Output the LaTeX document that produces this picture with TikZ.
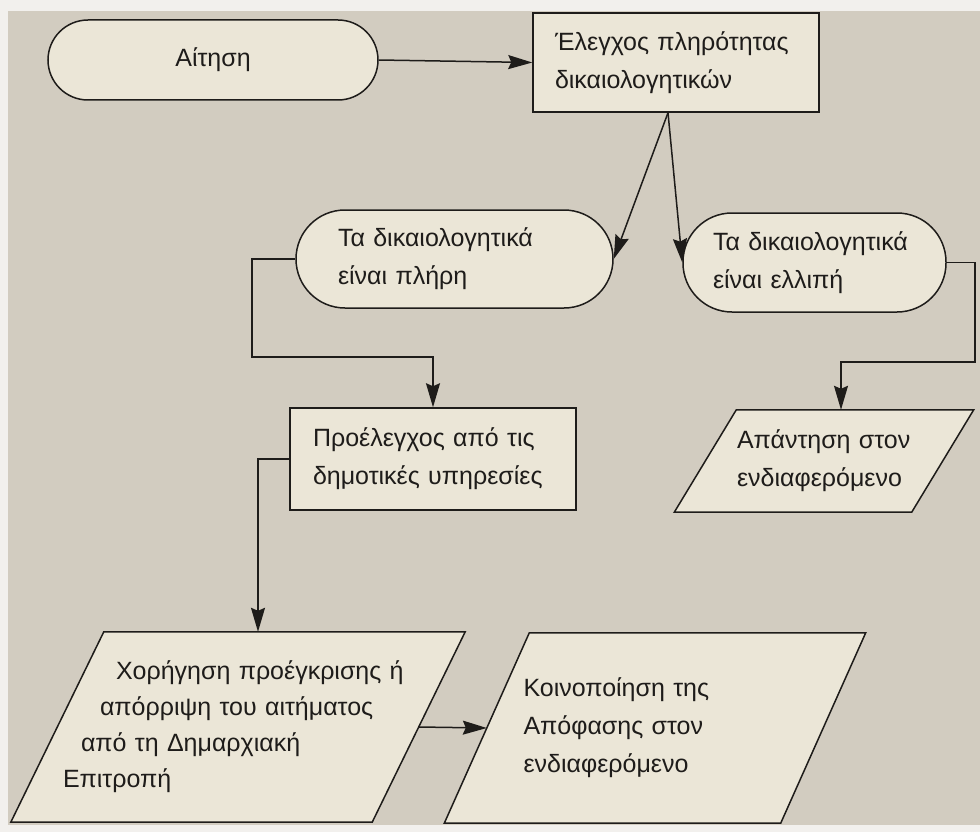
\documentclass[tikz,border=0pt]{standalone}
\usepackage{fontspec}
\setmainfont{Liberation Sans}
\usetikzlibrary{arrows.meta}
\pgfdeclarelayer{back}
\pgfdeclarelayer{shapes}
\pgfsetlayers{back,shapes,main}
\definecolor{paper}{RGB}{210,204,192}
\definecolor{margin}{RGB}{242,240,237}
\definecolor{boxfill}{RGB}{235,230,215}
\definecolor{ink}{RGB}{30,28,26}
\begin{document}
\begin{tikzpicture}[x=1pt,y=-1pt,
  every node/.style={font=\fontsize{25}{38}\selectfont, text=ink},
  line/.style={draw=ink, line width=1.5pt},
  arrow/.style={line, -{Stealth[length=24pt,width=14pt,inset=3pt]}},
  box/.style={line, fill=boxfill, align=left, inner ysep=0pt},
  pgram/.style={align=left, inner ysep=0pt},
  shapeline/.style={line, fill=boxfill, line join=miter}]
\begin{pgfonlayer}{back}
  \fill[margin] (0,0) rectangle (980,832);
  \fill[paper] (8,11) rectangle (980,825);
\end{pgfonlayer}
\useasboundingbox (0,0) rectangle (980,832);

% terminals and process boxes
\node[box, rounded corners=40pt, minimum width=330pt, minimum height=80pt, align=center] (aitisi) at (213,60) {Αίτηση};
\node[box, minimum width=286pt, minimum height=99pt, text width=242pt, inner xsep=22pt] (elegxos) at (676,62.5)
  {\mbox{Έλεγχος πληρότητας}\\\mbox{δικαιολογητικών}};
\node[box, rounded corners=49pt, minimum width=317pt, minimum height=98pt, text width=233pt, inner xsep=42pt] (pliri) at (454.5,259)
  {\mbox{Τα δικαιολογητικά}\\\mbox{είναι πλήρη}};
\node[box, rounded corners=49pt, minimum width=263pt, minimum height=99pt, text width=203pt, inner xsep=30pt] (ellipi) at (814.5,262.5)
  {\mbox{Τα δικαιολογητικά}\\\mbox{είναι ελλιπή}};
\node[box, minimum width=286pt, minimum height=102pt, text width=240pt, inner xsep=23pt] (proel) at (433,459)
  {\mbox{Προέλεγχος από τις}\\\mbox{δημοτικές υπηρεσίες}};

% parallelograms (data)
\node[pgram, minimum width=237pt, minimum height=102pt, text width=174pt, inner xsep=31.5pt] (apan) at (824,461)
  {\mbox{Απάντηση στον}\\\mbox{ενδιαφερόμενο}};
\node[pgram, minimum width=361pt, minimum height=190pt, text width=350pt, inner xsep=5.5pt, font=\fontsize{25}{36}\selectfont] (p1) at (238,727)
  {\mbox{\hspace*{53pt}Χορήγηση προέγκρισης ή}\\\mbox{\hspace*{37pt}απόρριψη του αιτήματος}\\\mbox{\hspace*{18pt}από τη Δημαρχιακή}\\\mbox{Επιτροπή}};
\node[pgram, minimum width=336pt, minimum height=190pt, text width=263pt, inner xsep=36.5pt] (p2) at (655,728)
  {\mbox{Κοινοποίηση της}\\\mbox{Απόφασης στον}\\\mbox{ενδιαφερόμενο}};

\begin{pgfonlayer}{shapes}
  \draw[shapeline] ([xshift=31pt]apan.north west) -- ([xshift=31pt]apan.north east)
     -- ([xshift=-31pt]apan.south east) -- ([xshift=-31pt]apan.south west) -- cycle;
  \draw[shapeline] ([xshift=46.5pt]p1.north west) -- ([xshift=46.5pt]p1.north east)
     -- ([xshift=-46.5pt]p1.south east) -- ([xshift=-46.5pt]p1.south west) -- cycle;
  \draw[shapeline] ([xshift=42.5pt]p2.north west) -- ([xshift=42.5pt]p2.north east)
     -- ([xshift=-42.5pt]p2.south east) -- ([xshift=-42.5pt]p2.south west) -- cycle;
\end{pgfonlayer}

% bend points
\coordinate (c1) at (252,357);
\coordinate (c2) at (975,362);

% connectors
\draw[arrow] (aitisi.east) -- (elegxos.west);
\draw[arrow] ([xshift=-8pt]elegxos.south) -- (pliri.east);
\draw[arrow] ([xshift=-8pt]elegxos.south) -- (ellipi.west);
\draw[arrow] (pliri.west) -| (c1) -| (proel.north);
\draw[arrow] (ellipi.east) -| (c2) -| ([xshift=17pt]apan.north);
\draw[arrow] (proel.west) -| ([xshift=20pt]p1.north);
\draw[arrow] (p1.east) -- (p2.west);
\end{tikzpicture}
\end{document}
